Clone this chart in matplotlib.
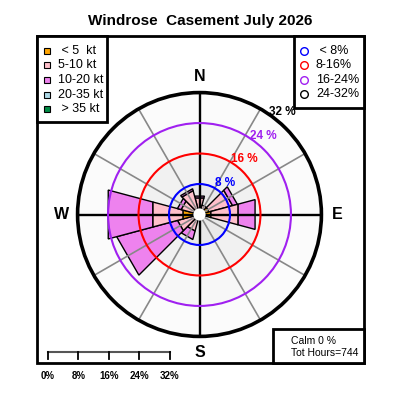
import numpy as np
import matplotlib
matplotlib.use('Agg')
import matplotlib.pyplot as plt
from matplotlib.patches import Circle, Polygon, Rectangle

plt.rcParams['font.family'] = ['Liberation Sans', 'DejaVu Sans']

# wind direction sectors (deg from north), 30 deg wide
directions = [0, 30, 60, 90, 120, 150, 180, 210, 240, 270, 300, 330]
# percent of hours in each speed class
spd_lt5 = [1.0, 1.5, 2.6, 3.1, 0.8, 0.4, 0.6, 1.5, 1.5, 4.5, 1.5, 1.2]
spd_5_10 = [3.5, 1.1, 6.4, 7.4, 0.0, 0.0, 0.0, 3.0, 4.5, 8.2, 3.5, 5.3]
spd_10_20 = [0.5, 0.0, 1.3, 4.6, 0.0, 0.0, 0.0, 2.3, 16.5, 12.1, 1.0, 0.5]
spd_20_35 = [0.0] * 12
spd_gt35 = [0.0] * 12
speed_labels = [' < 5  kt', '5-10 kt', '10-20 kt', '20-35 kt', ' > 35 kt']
speed_colors = ['#FFA500', '#FFC0CB', '#EE82EE', '#ADD8E6', '#008B45']

rings = [8, 16, 24, 32]
ring_colors = ['#0000FF', '#FF0000', '#A020F0', '#000000']
ring_labels = [' < 8%', '8-16%', '16-24%', '24-32%']
ring_fill = ['#e9e9e9', '#f1f1f1', '#f7f7f7', '#fbfbfb']
calm_pct = 0
tot_hours = 744

S = 3.81            # pixels per percent
cx, cy = 199.5, 214.5

fig = plt.figure(figsize=(4, 4), dpi=100)
ax = fig.add_axes([0, 0, 1, 1])
ax.set_xlim(-cx / S, (400 - cx) / S)
ax.set_ylim(-(400 - cy) / S, cy / S)
ax.axis('off')


def xy(r, deg):
    a = np.radians(deg)
    return r * np.sin(a), r * np.cos(a)


# background rings
for r, c in sorted(zip(rings, ring_fill), reverse=True):
    ax.add_patch(Circle((0, 0), r, fc=c, ec='none', zorder=1))

# stacked bars
stack = np.array([spd_lt5, spd_5_10, spd_10_20, spd_20_35, spd_gt35])
cum = np.cumsum(stack, axis=0)
half = 360 / len(directions) / 2
for i, d in enumerate(directions):
    lo = 0
    for k in range(len(stack)):
        hi = cum[k, i]
        if hi > lo:
            pts = [xy(lo, d - half), xy(hi, d - half), xy(hi, d + half), xy(lo, d + half)]
            ax.add_patch(Polygon(pts, closed=True, fc=speed_colors[k], ec='black',
                                 lw=1, zorder=3))
        lo = hi

# spokes
rmax = rings[-1]
for d in range(0, 360, 30):
    x, y = xy(rmax, d)
    if d % 90 == 0:
        ax.plot([0, x], [0, y], color='black', lw=1.7, zorder=4)
    else:
        ax.plot([0, x], [0, y], color='#888888', lw=1.2, zorder=4)

# circles and labels
for r, c in zip(rings, ring_colors):
    lw = 2.6 if r == rmax else 1.5
    ax.add_patch(Circle((0, 0), r, fill=False, ec=c, lw=lw, zorder=5))
    tx, ty = xy(r + 2.6, 39)
    ax.text(tx, ty, f'{r} %', color=c, fontsize=8.5, fontweight='bold',
            ha='center', va='center', zorder=7)

ax.add_patch(Circle((0, 0), 1.6, fc='white', ec='none', zorder=6))

for lab, d in zip(['N', 'E', 'S', 'W'], [0, 90, 180, 270]):
    tx, ty = xy(36.2, d)
    ax.text(tx, ty, lab, fontsize=11.5, fontweight='bold', ha='center', va='center')

# scale bar
x0 = (48 - cx) / S
yb = (cy - 351.7) / S
yt = (cy - 359) / S
ax.plot([x0, x0 + rmax], [yb, yb], color='#555555', lw=1.5, zorder=5)
for t in [0] + rings:
    ax.plot([x0 + t, x0 + t], [yb, yt], color='black', lw=1.3, zorder=5)
    ax.text(x0 + t, (cy - 376) / S, f'{t}%', fontsize=7, fontweight='bold',
            ha='center', va='center')

# overlay in pixel coords for frame, legends and title
ov = fig.add_axes([0, 0, 1, 1], zorder=10)
ov.set_xlim(0, 400)
ov.set_ylim(400, 0)
ov.axis('off')
ov.patch.set_alpha(0)

ov.add_patch(Rectangle((37, 36), 327, 327, fill=False, ec='black', lw=2))
ov.add_patch(Rectangle((37, 36), 70, 86, fc='white', ec='black', lw=2))
ov.add_patch(Rectangle((294, 36), 70, 72, fc='white', ec='black', lw=2))
ov.add_patch(Rectangle((273, 329), 91, 34, fc='white', ec='black', lw=2))

ov.text(200, 21, 'Windrose  Casement July 2026', fontsize=11, fontweight='bold',
        ha='center', va='center')

for i, (lab, c) in enumerate(zip(speed_labels, speed_colors)):
    y = 50.7 + 14.6 * i
    ov.plot(47, y, marker='s', ms=4, mfc=c, mec='black', mew=0.8)
    ov.text(58, y, lab, fontsize=9, ha='left', va='center')

for i, (lab, c) in enumerate(zip(ring_labels, ring_colors)):
    y = 51 + 14.4 * i
    ov.plot(304, y, marker='o', ms=5.5, mfc='none', mec=c, mew=1)
    ov.text(316, y, lab, fontsize=9, ha='left', va='center')

ov.text(291, 341.5, f'Calm {calm_pct} %', fontsize=7.5, ha='left', va='center')
ov.text(291, 352.5, f'Tot Hours={tot_hours}', fontsize=7.5, ha='left', va='center')

fig.savefig('out.png', dpi=100)
